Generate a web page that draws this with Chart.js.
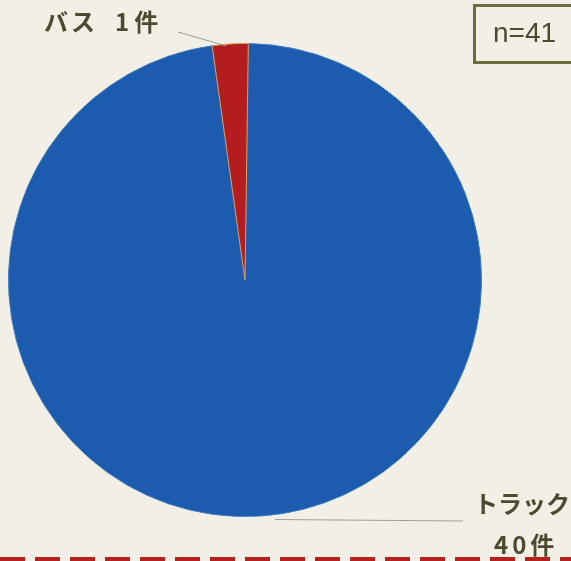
<!DOCTYPE html>
<html lang="ja">
<head>
<meta charset="utf-8">
<script src="https://cdn.jsdelivr.net/npm/chart.js@4/dist/chart.umd.min.js"></script>
<style>
  html, body { margin: 0; padding: 0; background: #f1efe6; }
  #wrap { position: relative; width: 571px; height: 561px; overflow: hidden; }
  canvas { display: block; }
</style>
</head>
<body>
<div id="wrap"><canvas id="c" width="571" height="561"></canvas></div>
<script>
// Vehicle types and counts
const categories = ['トラック', 'バス'];
const counts = [40, 1];
const sliceColors = ['#1c5bae', '#b41d1f'];
const total = counts.reduce((a, b) => a + b, 0);

const textColor = '#4b4b30';
const jpFont = '"Noto Sans CJK JP", sans-serif';

// Labels, leader lines, sample-size box and the dashed rule along the bottom
const annotations = {
  id: 'annotations',
  afterDraw(chart) {
    const ctx = chart.ctx;
    const arcs = chart.getDatasetMeta(0).data;
    ctx.save();

    // leader line + label for the small slice (バス)
    const bus = arcs[1];
    const midB = (bus.startAngle + bus.endAngle) / 2;
    const tipX = bus.x + Math.cos(midB) * bus.outerRadius;
    const tipY = bus.y + Math.sin(midB) * bus.outerRadius;
    ctx.strokeStyle = '#9a9a90';
    ctx.lineWidth = 1;
    ctx.beginPath();
    ctx.moveTo(178, 32);
    ctx.lineTo(tipX - 4, tipY + 2);
    ctx.stroke();

    ctx.fillStyle = textColor;
    ctx.font = 'bold 24px ' + jpFont;
    ctx.letterSpacing = '3px';
    ctx.textBaseline = 'middle';
    ctx.textAlign = 'left';
    ctx.fillText(categories[1], 44, 22);
    ctx.letterSpacing = '5px';
    ctx.fillText(counts[1] + '件', 115, 22);

    // leader line + label for the large slice (トラック)
    const truck = arcs[0];
    ctx.strokeStyle = '#a0a098';
    ctx.beginPath();
    ctx.moveTo(truck.x + 30, truck.y + truck.outerRadius + 3);
    ctx.lineTo(463, 521);
    ctx.stroke();

    ctx.fillStyle = textColor;
    ctx.letterSpacing = '0px';
    ctx.textAlign = 'center';
    ctx.fillText(categories[0], 522, 504);
    ctx.textAlign = 'left';
    ctx.letterSpacing = '4px';
    ctx.fillText(counts[0] + '件', 494, 545);

    // sample size box
    ctx.letterSpacing = '0px';
    ctx.strokeStyle = '#6d6c3e';
    ctx.lineWidth = 3;
    ctx.strokeRect(474.5, 5.5, 110, 57);
    ctx.fillStyle = textColor;
    ctx.font = '28px "Liberation Sans", Arial, sans-serif';
    ctx.fillText('n=' + total, 493, 34);

    // dashed red rule at the bottom edge
    ctx.strokeStyle = '#b3221c';
    ctx.lineWidth = 6;
    ctx.setLineDash([25, 10]);
    ctx.beginPath();
    ctx.moveTo(0, 560);
    ctx.lineTo(571, 560);
    ctx.stroke();

    ctx.restore();
  }
};

new Chart(document.getElementById('c'), {
  type: 'pie',
  data: {
    labels: categories,
    datasets: [{
      data: counts,
      backgroundColor: sliceColors,
      borderColor: ['#3b78c0', '#d89a5a'],
      borderWidth: 1
    }]
  },
  options: {
    responsive: false,
    animation: false,
    rotation: 0.8,
    layout: { padding: { left: 8, right: 89, top: 43, bottom: 44 } },
    plugins: {
      legend: { display: false },
      tooltip: { enabled: false }
    }
  },
  plugins: [annotations]
});
</script>
</body>
</html>
